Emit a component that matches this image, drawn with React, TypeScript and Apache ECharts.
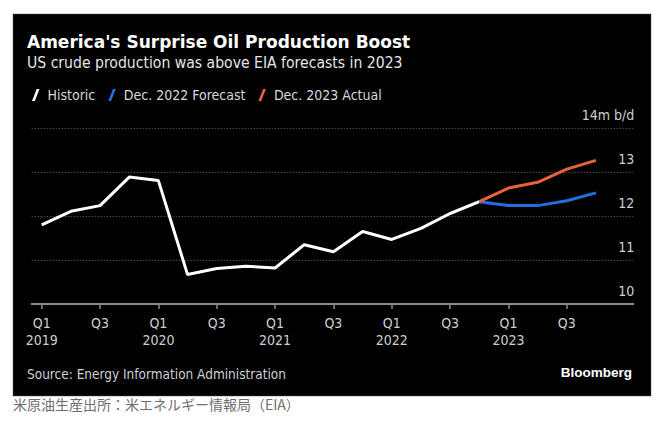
import React, { useEffect, useRef } from "react";
import * as echarts from "echarts";

const quarters = [
  "Q1 2019", "Q2 2019", "Q3 2019", "Q4 2019",
  "Q1 2020", "Q2 2020", "Q3 2020", "Q4 2020",
  "Q1 2021", "Q2 2021", "Q3 2021", "Q4 2021",
  "Q1 2022", "Q2 2022", "Q3 2022", "Q4 2022",
  "Q1 2023", "Q2 2023", "Q3 2023", "Q4 2023",
];

// US crude production, million b/d
const historic = [
  11.8, 12.11, 12.24, 12.89,
  12.81, 10.67, 10.81, 10.86,
  10.82, 11.35, 11.19, 11.65,
  11.47, 11.72, 12.06, 12.33,
];
// Starting at Q4 2022
const forecast2022 = [12.33, 12.24, 12.24, 12.35, 12.53];
const actual2023 = [12.33, 12.64, 12.77, 13.07, 13.27];

const tickQuarterIdx = [0, 2, 4, 6, 8, 10, 12, 14, 16, 18];
const tickLabels = [
  "Q1\n2019", "Q3", "Q1\n2020", "Q3", "Q1\n2021",
  "Q3", "Q1\n2022", "Q3", "Q1\n2023", "Q3",
];

const yTicks = [10, 11, 12, 13, 14];
const yUnit = "14m b/d";

const FONT = "'Liberation Sans Narrow', 'DejaVu Sans Condensed', 'Roboto', sans-serif";

export default function App() {
  const ref = useRef<HTMLDivElement>(null);

  useEffect(() => {
    if (!ref.current) return;
    const chart = echarts.init(ref.current, undefined, { renderer: "svg" });
    const offset = historic.length - 1;
    const slash = "path://M0,12 L2.8,12 L7.5,0 L4.7,0 Z";

    chart.setOption({
      animation: false,
      backgroundColor: "#ffffff",
      textStyle: { fontFamily: FONT },
      graphic: [
        {
          type: "rect",
          z: -10,
          shape: { x: 13, y: 14, width: 638, height: 382 },
          style: { fill: "#000000", stroke: "#555", lineWidth: 0.5 },
        },
        {
          type: "text",
          left: 27,
          top: 33,
          style: {
            text: "America's Surprise Oil Production Boost",
            fill: "#ffffff",
            font: "bold 17px 'DejaVu Sans', sans-serif",
          },
        },
        {
          type: "text",
          left: 27,
          top: 55,
          style: {
            text: "US crude production was above EIA forecasts in 2023",
            fill: "#e6e6e6",
            font: `15.6px ${FONT}`,
          },
        },
        {
          type: "text",
          left: 27,
          top: 367,
          style: {
            text: "Source: Energy Information Administration",
            fill: "#cfcfcf",
            font: `13.5px ${FONT}`,
          },
        },
        {
          type: "text",
          right: 32,
          top: 365,
          style: {
            text: "Bloomberg",
            fill: "#ffffff",
            font: "bold 13.5px 'Liberation Sans', sans-serif",
          },
        },
        {
          type: "text",
          left: 13,
          top: 397,
          style: {
            text: "米原油生産出所：米エネルギー情報局（EIA）",
            fill: "#6e6e6e",
            font: "14px 'Noto Sans CJK JP', sans-serif",
          },
        },
      ],
      legend: {
        left: 27,
        top: 83,
        itemWidth: 7.5,
        itemHeight: 12,
        itemGap: 13,
        icon: slash,
        textStyle: { color: "#d8d8d8", fontSize: 14, fontFamily: FONT, padding: [0, 0, 0, 3] },
        data: ["Historic", "Dec. 2022 Forecast", "Dec. 2023 Actual"],
      },
      grid: { left: 31.7, right: 30.7, top: 128.3, bottom: 117 },
      xAxis: {
        type: "value",
        min: -0.343,
        max: 20.28,
        splitLine: { show: false },
        axisLine: { show: true, lineStyle: { color: "#8c8c8c", width: 2 } },
        axisTick: {
          show: true,
          customValues: tickQuarterIdx,
          length: 5,
          lineStyle: { color: "#8c8c8c", width: 1.5 },
        },
        axisLabel: {
          customValues: tickQuarterIdx,
          color: "#cfcfcf",
          fontSize: 14,
          lineHeight: 17,
          margin: 10,
          fontFamily: FONT,
          formatter: (v: number) => tickLabels[tickQuarterIdx.indexOf(Math.round(v))] ?? "",
        },
      },
      yAxis: {
        type: "value",
        position: "right",
        min: 10,
        max: 14,
        interval: 1,
        axisLine: { show: false },
        axisTick: { show: false },
        splitLine: { show: true, lineStyle: { color: "#6a6a6a", type: [1, 2], width: 1 } },
        axisLabel: {
          inside: true,
          margin: -1,
          color: "#cfcfcf",
          fontSize: 14,
          fontFamily: FONT,
          verticalAlign: "bottom",
          padding: [0, 0, 6, 0],
          customValues: yTicks,
          formatter: (v: number) => (v === 14 ? yUnit : String(v)),
        },
      },
      series: [
        {
          name: "Historic",
          type: "line",
          data: historic.map((v, i) => [i, v]),
          symbol: "none",
          lineStyle: { color: "#ffffff", width: 3 },
          itemStyle: { color: "#ffffff" },
        },
        {
          name: "Dec. 2022 Forecast",
          type: "line",
          data: forecast2022.map((v, i) => [i + offset, v]),
          symbol: "none",
          lineStyle: { color: "#1f6fe0", width: 3 },
          itemStyle: { color: "#1f6fe0" },
        },
        {
          name: "Dec. 2023 Actual",
          type: "line",
          data: actual2023.map((v, i) => [i + offset, v]),
          symbol: "none",
          lineStyle: { color: "#e8623a", width: 3 },
          itemStyle: { color: "#e8623a" },
        },
      ],
    });
    return () => chart.dispose();
  }, []);

  return (
    <div
      ref={ref}
      style={{ position: "fixed", left: 0, top: 0, width: 664, height: 421 }}
      data-quarters={quarters.length}
    />
  );
}
